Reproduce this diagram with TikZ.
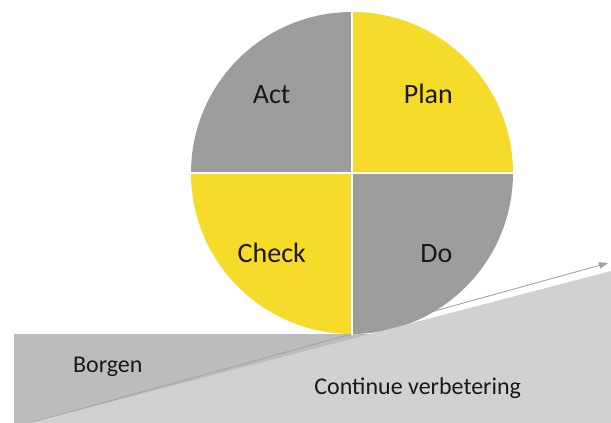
\documentclass[tikz,border=0pt]{standalone}
\usepackage{fontspec}
\setmainfont{Carlito}
\usetikzlibrary{arrows.meta}
\definecolor{pdcayellow}{HTML}{F7DB2B}
\definecolor{pdcagray}{HTML}{9D9D9D}
\definecolor{rectgray}{HTML}{BCBCBC}
\definecolor{wedgegray}{HTML}{D1D1D1}
\definecolor{arrowgray}{HTML}{A3A3A3}
\begin{document}
\begin{tikzpicture}[x=1pt,y=1pt,
  biglabel/.style={anchor=base,inner sep=0pt,font=\fontsize{28}{34}\selectfont,text=black!90},
  smalllabel/.style={anchor=base,inner sep=0pt,font=\fontsize{24}{29}\selectfont,text=black!90},
  divider/.style={white,line width=2pt}]
\useasboundingbox (0,0) rectangle (611,423);
% Borgen block
\fill[rectgray] (14,0) rectangle (611,89);
% slope arrow
\coordinate (arrowstart) at (30,0);
\coordinate (arrowend) at (608,160);
\draw[arrowgray,line width=0.9pt,-{Triangle[length=9pt,width=6.5pt]}] (arrowstart) -- (arrowend);
% PDCA circle
\coordinate (C) at (352,250);
\fill[pdcayellow] (C) -- ++(161,0) arc[start angle=0,end angle=90,radius=161] -- cycle;
\fill[pdcagray] (C) -- ++(0,161) arc[start angle=90,end angle=180,radius=161] -- cycle;
\fill[pdcayellow] (C) -- ++(-161,0) arc[start angle=180,end angle=270,radius=161] -- cycle;
\fill[pdcagray] (C) -- ++(0,-161) arc[start angle=270,end angle=360,radius=161] -- cycle;
\coordinate (ctop) at (352,412);
\coordinate (cbot) at (352,88);
\coordinate (cleft) at (190,250);
\coordinate (cright) at (514,250);
\draw[divider] (ctop) -- (cbot);
\draw[divider] (cleft) -- (cright);
% improvement wedge
\fill[wedgegray] (30,0) -- (611,152) -- (611,0) -- cycle;
% labels
\node[biglabel] (act) at (271.5,319) {Act};
\node[biglabel] (plan) at (428.3,319) {Plan};
\node[biglabel] (check) at (271.8,160.7) {Check};
\node[biglabel] (do) at (436.3,160.7) {Do};
\node[smalllabel] (borgen) at (107.8,50.3) {Borgen};
\node[smalllabel] (cv) at (417.7,28.5) {Continue verbetering};
\end{tikzpicture}
\end{document}
